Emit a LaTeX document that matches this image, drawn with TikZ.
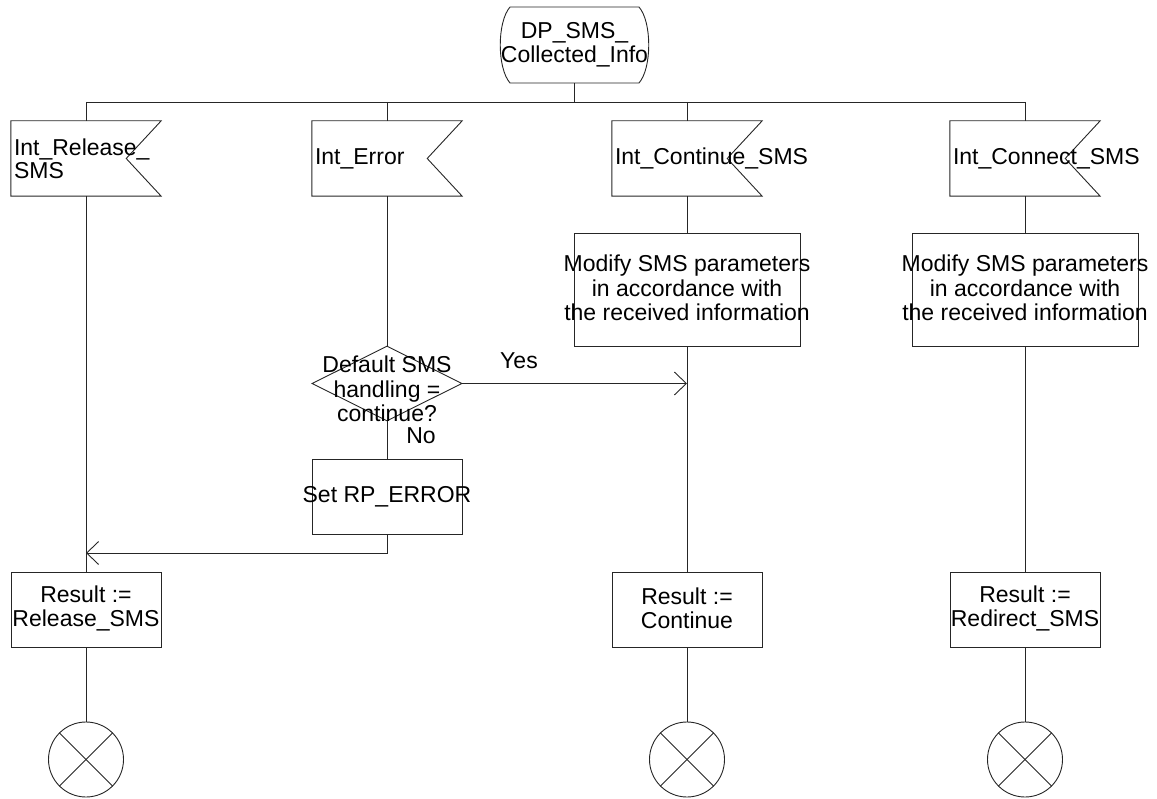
\documentclass[tikz,border=0pt]{standalone}
\usepackage{fontspec}
\setmainfont{Liberation Sans}
\usetikzlibrary{arrows.meta,shapes.geometric,calc}
\tikzset{
  ln/.style={draw=black!85,line width=0.9pt},
  txt/.style={inner sep=0pt,align=center,font=\fontsize{23pt}{24.5pt}\selectfont},
  ftxt/.style={inner sep=0pt,align=left,anchor=west,font=\fontsize{23pt}{23pt}\selectfont},
  frame/.style={rectangle,inner sep=0pt,minimum width=150pt,minimum height=75pt},
  taskbox/.style={frame,ln},
  bigbox/.style={rectangle,ln,inner sep=0pt,minimum width=226pt,minimum height=113pt},
  decision/.style={diamond,ln,inner sep=0pt,minimum width=150pt,minimum height=75pt},
  stopsym/.style={circle,ln,inner sep=0pt,minimum size=75pt},
  arr/.style={ln,-{Straight Barb[length=12pt,width=23pt]}}
}
\begin{document}
\begin{tikzpicture}[x=1pt,y=-1pt]
\useasboundingbox (0,0) rectangle (1157,799);

% state symbol
\node[rectangle,inner sep=0pt,minimum width=149pt,minimum height=76pt] (st) at (574.5,45) {};
\draw[ln] (510,7) -- (639,7) .. controls (652,22) and (652,68) .. (639,83) -- (510,83) .. controls (497,68) and (497,22) .. (510,7);
\node[txt] (stt) at (574.5,45) {DP\_SMS\_\\Collected\_Info};

% bus coordinates
\coordinate (bs) at (574.5,102);
\coordinate (b1) at (86,102);
\coordinate (b2) at (387,102);
\coordinate (b3) at (687,102);
\coordinate (b4) at (1025,102);

% input flags
\node[frame] (f1) at (86,158.5) {};
\node[frame] (f2) at (387,158.5) {};
\node[frame] (f3) at (687,158.5) {};
\node[frame] (f4) at (1025,158.5) {};
\foreach \f in {f1,f2,f3,f4}{
  \draw[ln] (\f.north west) -- (\f.north east) -- ($(\f.east)+(-35,0)$) -- (\f.south east) -- (\f.south west) -- cycle;
}
\node[ftxt] (f1t) at ($(f1.west)+(3,0)$) {Int\_Release\_\\SMS};
\node[ftxt] (f2t) at ($(f2.west)+(3,0)$) {Int\_Error};
\node[ftxt] (f3t) at ($(f3.west)+(3,0)$) {Int\_Continue\_SMS};
\node[ftxt] (f4t) at ($(f4.west)+(3,0)$) {Int\_Connect\_SMS};

% task boxes
\node[bigbox] (m3) at (687,289.5) {};
\node[txt] (m3t) at (687,288) {Modify SMS parameters\\in accordance with\\the received information};
\node[bigbox] (m4) at (1025,289.5) {};
\node[txt] (m4t) at (1025,288) {Modify SMS parameters\\in accordance with\\the received information};

% decision
\node[decision] (d) at (387,383.5) {};
\node[txt] (dt) at (387,389) {Default SMS\\handling =\\continue?};
\node[txt] (yes) at (519,361) {Yes};
\node[txt] (no) at (421,436) {No};

\node[taskbox] (e) at (387,496.5) {};
\node[txt] (et) at (387,496.5) {Set RP\_ERROR};

% result boxes
\node[taskbox] (r1) at (86,609.5) {};
\node[txt] (r1t) at (86,608.5) {Result :=\\Release\_SMS};
\node[taskbox] (r3) at (687,609.5) {};
\node[txt] (r3t) at (687,608.5) {Result :=\\Continue};
\node[taskbox] (r4) at (1025,609.5) {};
\node[txt] (r4t) at (1025,608.5) {Result :=\\Redirect\_SMS};

% stop symbols
\foreach \s/\x in {t1/86,t3/687,t4/1025}{
  \node[stopsym] (\s) at (\x,759.5) {};
  \draw[ln] (\s.north west) -- (\s.south east);
  \draw[ln] (\s.north east) -- (\s.south west);
}

% connectors
\draw[ln] (st.south) -- (bs);
\draw[ln] (b1) -- (b4);
\draw[ln] (b1) -- (f1.north);
\draw[ln] (b2) -- (f2.north);
\draw[ln] (b3) -- (f3.north);
\draw[ln] (b4) -- (f4.north);

\draw[ln] (f1.south) -- (r1.north);
\draw[ln] (f2.south) -- (d.north);
\draw[ln] (d.south) -- (e.north);
\coordinate (j1) at (86,553);
\draw[arr] (e.south) |- (j1);
\coordinate (j3) at (687,383.5);
\draw[arr] (d.east) -- (j3);

\draw[ln] (f3.south) -- (m3.north);
\draw[ln] (m3.south) -- (r3.north);
\draw[ln] (f4.south) -- (m4.north);
\draw[ln] (m4.south) -- (r4.north);

\draw[ln] (r1.south) -- (t1.north);
\draw[ln] (r3.south) -- (t3.north);
\draw[ln] (r4.south) -- (t4.north);
\end{tikzpicture}
\end{document}
